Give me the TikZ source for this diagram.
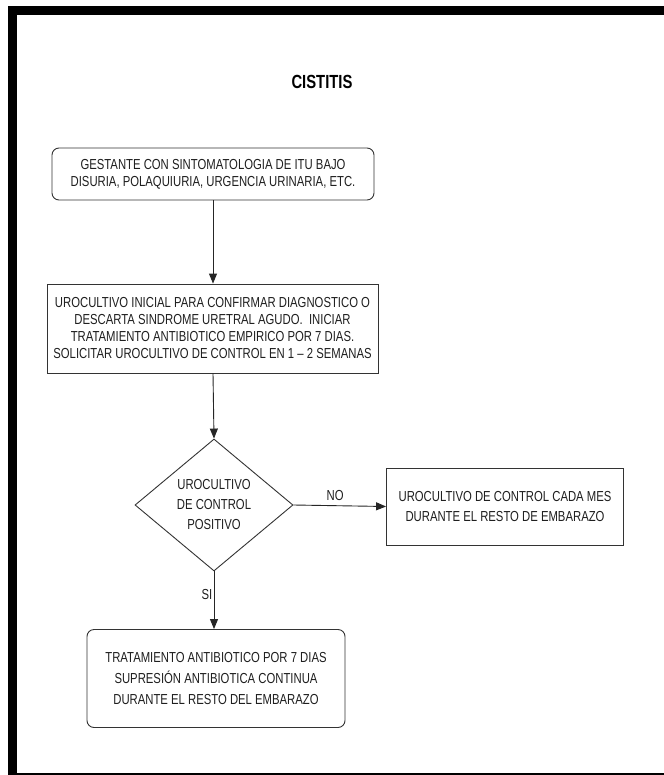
\documentclass[tikz,border=0pt]{standalone}
\usepackage{fontspec}
\setmainfont{Liberation Sans}[FakeStretch=0.78]
\usetikzlibrary{shapes.geometric,arrows.meta}
\begin{document}
\begin{tikzpicture}[x=1pt,y=-1pt,
  boxtext/.style={font=\fontsize{14.5}{17}\selectfont, align=center, text=black!88},
  roundbox/.style={boxtext, draw=black!80, line width=0.9pt, rounded corners=7pt, inner sep=0pt},
  sqbox/.style={boxtext, draw=black!80, line width=0.9pt, inner sep=0pt},
  decision/.style={boxtext, font=\fontsize{14.5}{20}\selectfont, diamond, draw=black!80, line width=0.9pt, inner sep=0pt, minimum width=158pt, minimum height=132pt},
  flow/.style={draw=black!85, line width=0.9pt, -{Triangle[width=8pt,length=10pt]}},
  lbl/.style={font=\fontsize{14.5}{16}\selectfont, text=black!88}]
\useasboundingbox (0,0) rectangle (663,775);
\fill[white] (0,0) rectangle (663,775);
\draw[line width=9pt] (12.5,11) rectangle (700,777);
\node (title) at (322,82) {\fontsize{19}{21}\selectfont\bfseries CISTITIS};
\node[roundbox, minimum width=322pt, minimum height=52pt] (b1) at (213,174)
  {GESTANTE CON SINTOMATOLOGIA DE ITU BAJO\\DISURIA, POLAQUIURIA, URGENCIA URINARIA, ETC.};
\node[sqbox, minimum width=331pt, minimum height=89pt] (b2) at (212.5,328.5)
  {UROCULTIVO INICIAL PARA CONFIRMAR DIAGNOSTICO O\\DESCARTA SINDROME URETRAL AGUDO.\ \ INICIAR\\TRATAMIENTO ANTIBIOTICO EMPIRICO POR 7 DIAS.\\SOLICITAR UROCULTIVO DE CONTROL EN 1 -- 2 SEMANAS};
\node[decision] (d) at (214,505) {UROCULTIVO\\DE CONTROL\\POSITIVO};
\node[sqbox, font=\fontsize{14.5}{20}\selectfont, minimum width=237pt, minimum height=77pt] (b3) at (505,506.5)
  {UROCULTIVO DE CONTROL CADA MES\\DURANTE EL RESTO DE EMBARAZO};
\node[roundbox, font=\fontsize{14.5}{21}\selectfont, minimum width=258pt, minimum height=98pt] (b4) at (216,678.5)
  {TRATAMIENTO ANTIBIOTICO POR 7 DIAS\\SUPRESIÓN ANTIBIOTICA CONTINUA\\DURANTE EL RESTO DEL EMBARAZO};
\draw[flow] (b1.south -| 213,0) -- (b2.north -| 213,0);
\draw[flow] (b2.south -| 213,0) -- (d.north);
\draw[flow] (d.east) -- node[lbl, above, pos=0.45, yshift=1pt] {NO} (b3.west);
\draw[flow] (d.south) -- node[lbl, left, pos=0.4, xshift=2pt] {SI} (b4.north -| d.south);
\end{tikzpicture}
\end{document}
